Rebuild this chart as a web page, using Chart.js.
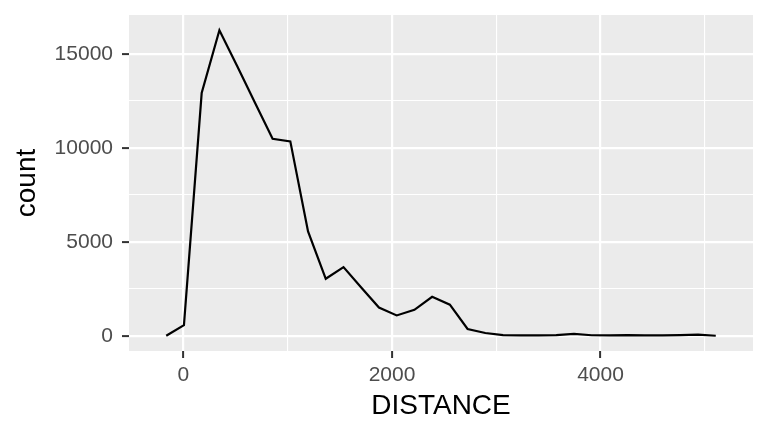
<!DOCTYPE html>
<html>
<head>
<meta charset="utf-8">
<script src="https://cdn.jsdelivr.net/npm/chart.js@4/dist/chart.umd.min.js"></script>
<style>
  html, body { margin: 0; padding: 0; background: #ffffff; }
  #c { display: block; }
</style>
</head>
<body>
<canvas id="c" width="768" height="432"></canvas>
<script>
const distance = [-165, 5, 175, 345, 515, 685, 855, 1025, 1195, 1365, 1535, 1705, 1875, 2045, 2215, 2385,
                  2555, 2725, 2895, 3065, 3235, 3405, 3575, 3745, 3915, 4085, 4255, 4425, 4595, 4765, 4935, 5105];
const counts   = [0, 560, 12910, 16250, 14350, 12410, 10480, 10340, 5550, 3030, 3650, 2570, 1500, 1080, 1380, 2070,
                  1650, 360, 145, 30, 20, 15, 30, 95, 25, 20, 35, 20, 20, 30, 55, 0];
const xMajorTicks = [0, 2000, 4000];
const xMinorTicks = [1000, 3000, 5000];
const yMajorTicks = [0, 5000, 10000, 15000];
const yMinorTicks = [2500, 7500, 12500];
const xTitle = 'DISTANCE';
const yTitle = 'count';

const points = distance.map((d, i) => ({ x: d, y: counts[i] }));

const panelBg = {
  id: 'panelBg',
  beforeDraw(chart) {
    const { ctx, chartArea: a } = chart;
    ctx.save();
    ctx.fillStyle = '#EBEBEB';
    ctx.fillRect(a.left, a.top, a.right - a.left, a.bottom - a.top);
    ctx.restore();
  }
};

const FONT = "'Liberation Sans', Arial, Helvetica, sans-serif";
const allTicks = (major, minor) => major.concat(minor).sort((a, b) => a - b).map(v => ({ value: v }));

new Chart(document.getElementById('c'), {
  type: 'line',
  data: {
    datasets: [{
      data: points,
      borderColor: '#000000',
      borderWidth: 2.2,
      pointRadius: 0,
      tension: 0,
      fill: false
    }]
  },
  options: {
    responsive: false,
    devicePixelRatio: 1,
    animation: false,
    layout: { padding: { top: 15, right: 15, left: 0, bottom: 0 } },
    plugins: { legend: { display: false }, tooltip: { enabled: false } },
    scales: {
      x: {
        type: 'linear',
        min: -522,
        max: 5462,
        afterBuildTicks(s) { s.ticks = allTicks(xMajorTicks, xMinorTicks); },
        afterFit(s) { s.height = 81; s.paddingLeft = 0; s.paddingRight = 0; },
        border: { display: false },
        grid: {
          color: '#FFFFFF',
          lineWidth: (c) => (c.tick && xMajorTicks.includes(c.tick.value)) ? 2.2 : 1.1,
          tickColor: (c) => (c.tick && xMajorTicks.includes(c.tick.value)) ? '#333333' : 'rgba(0,0,0,0)',
          tickWidth: 2,
          tickLength: 7
        },
        ticks: {
          autoSkip: false,
          maxRotation: 0,
          padding: 5,
          color: '#4D4D4D',
          font: { family: FONT, size: 21 },
          callback: (v) => xMajorTicks.includes(v) ? String(v) : ''
        },
        title: {
          display: true,
          text: xTitle,
          color: '#000000',
          font: { family: FONT, size: 28 },
          padding: { top: 0, bottom: 9 }
        }
      },
      y: {
        type: 'linear',
        min: -812.5,
        max: 17062.5,
        afterBuildTicks(s) { s.ticks = allTicks(yMajorTicks, yMinorTicks); },
        afterFit(s) { s.width = 129; s.paddingTop = 0; s.paddingBottom = 0; },
        border: { display: false },
        grid: {
          color: '#FFFFFF',
          lineWidth: (c) => (c.tick && yMajorTicks.includes(c.tick.value)) ? 2.2 : 1.1,
          tickColor: (c) => (c.tick && yMajorTicks.includes(c.tick.value)) ? '#333333' : 'rgba(0,0,0,0)',
          tickWidth: 2,
          tickLength: 7
        },
        ticks: {
          autoSkip: false,
          padding: 9,
          color: '#4D4D4D',
          font: { family: FONT, size: 21 },
          callback: (v) => yMajorTicks.includes(v) ? String(v) : ''
        },
        title: {
          display: true,
          text: yTitle,
          color: '#000000',
          font: { family: FONT, size: 28 },
          padding: { top: 10, bottom: 0 }
        }
      }
    }
  },
  plugins: [panelBg]
});
</script>
</body>
</html>
